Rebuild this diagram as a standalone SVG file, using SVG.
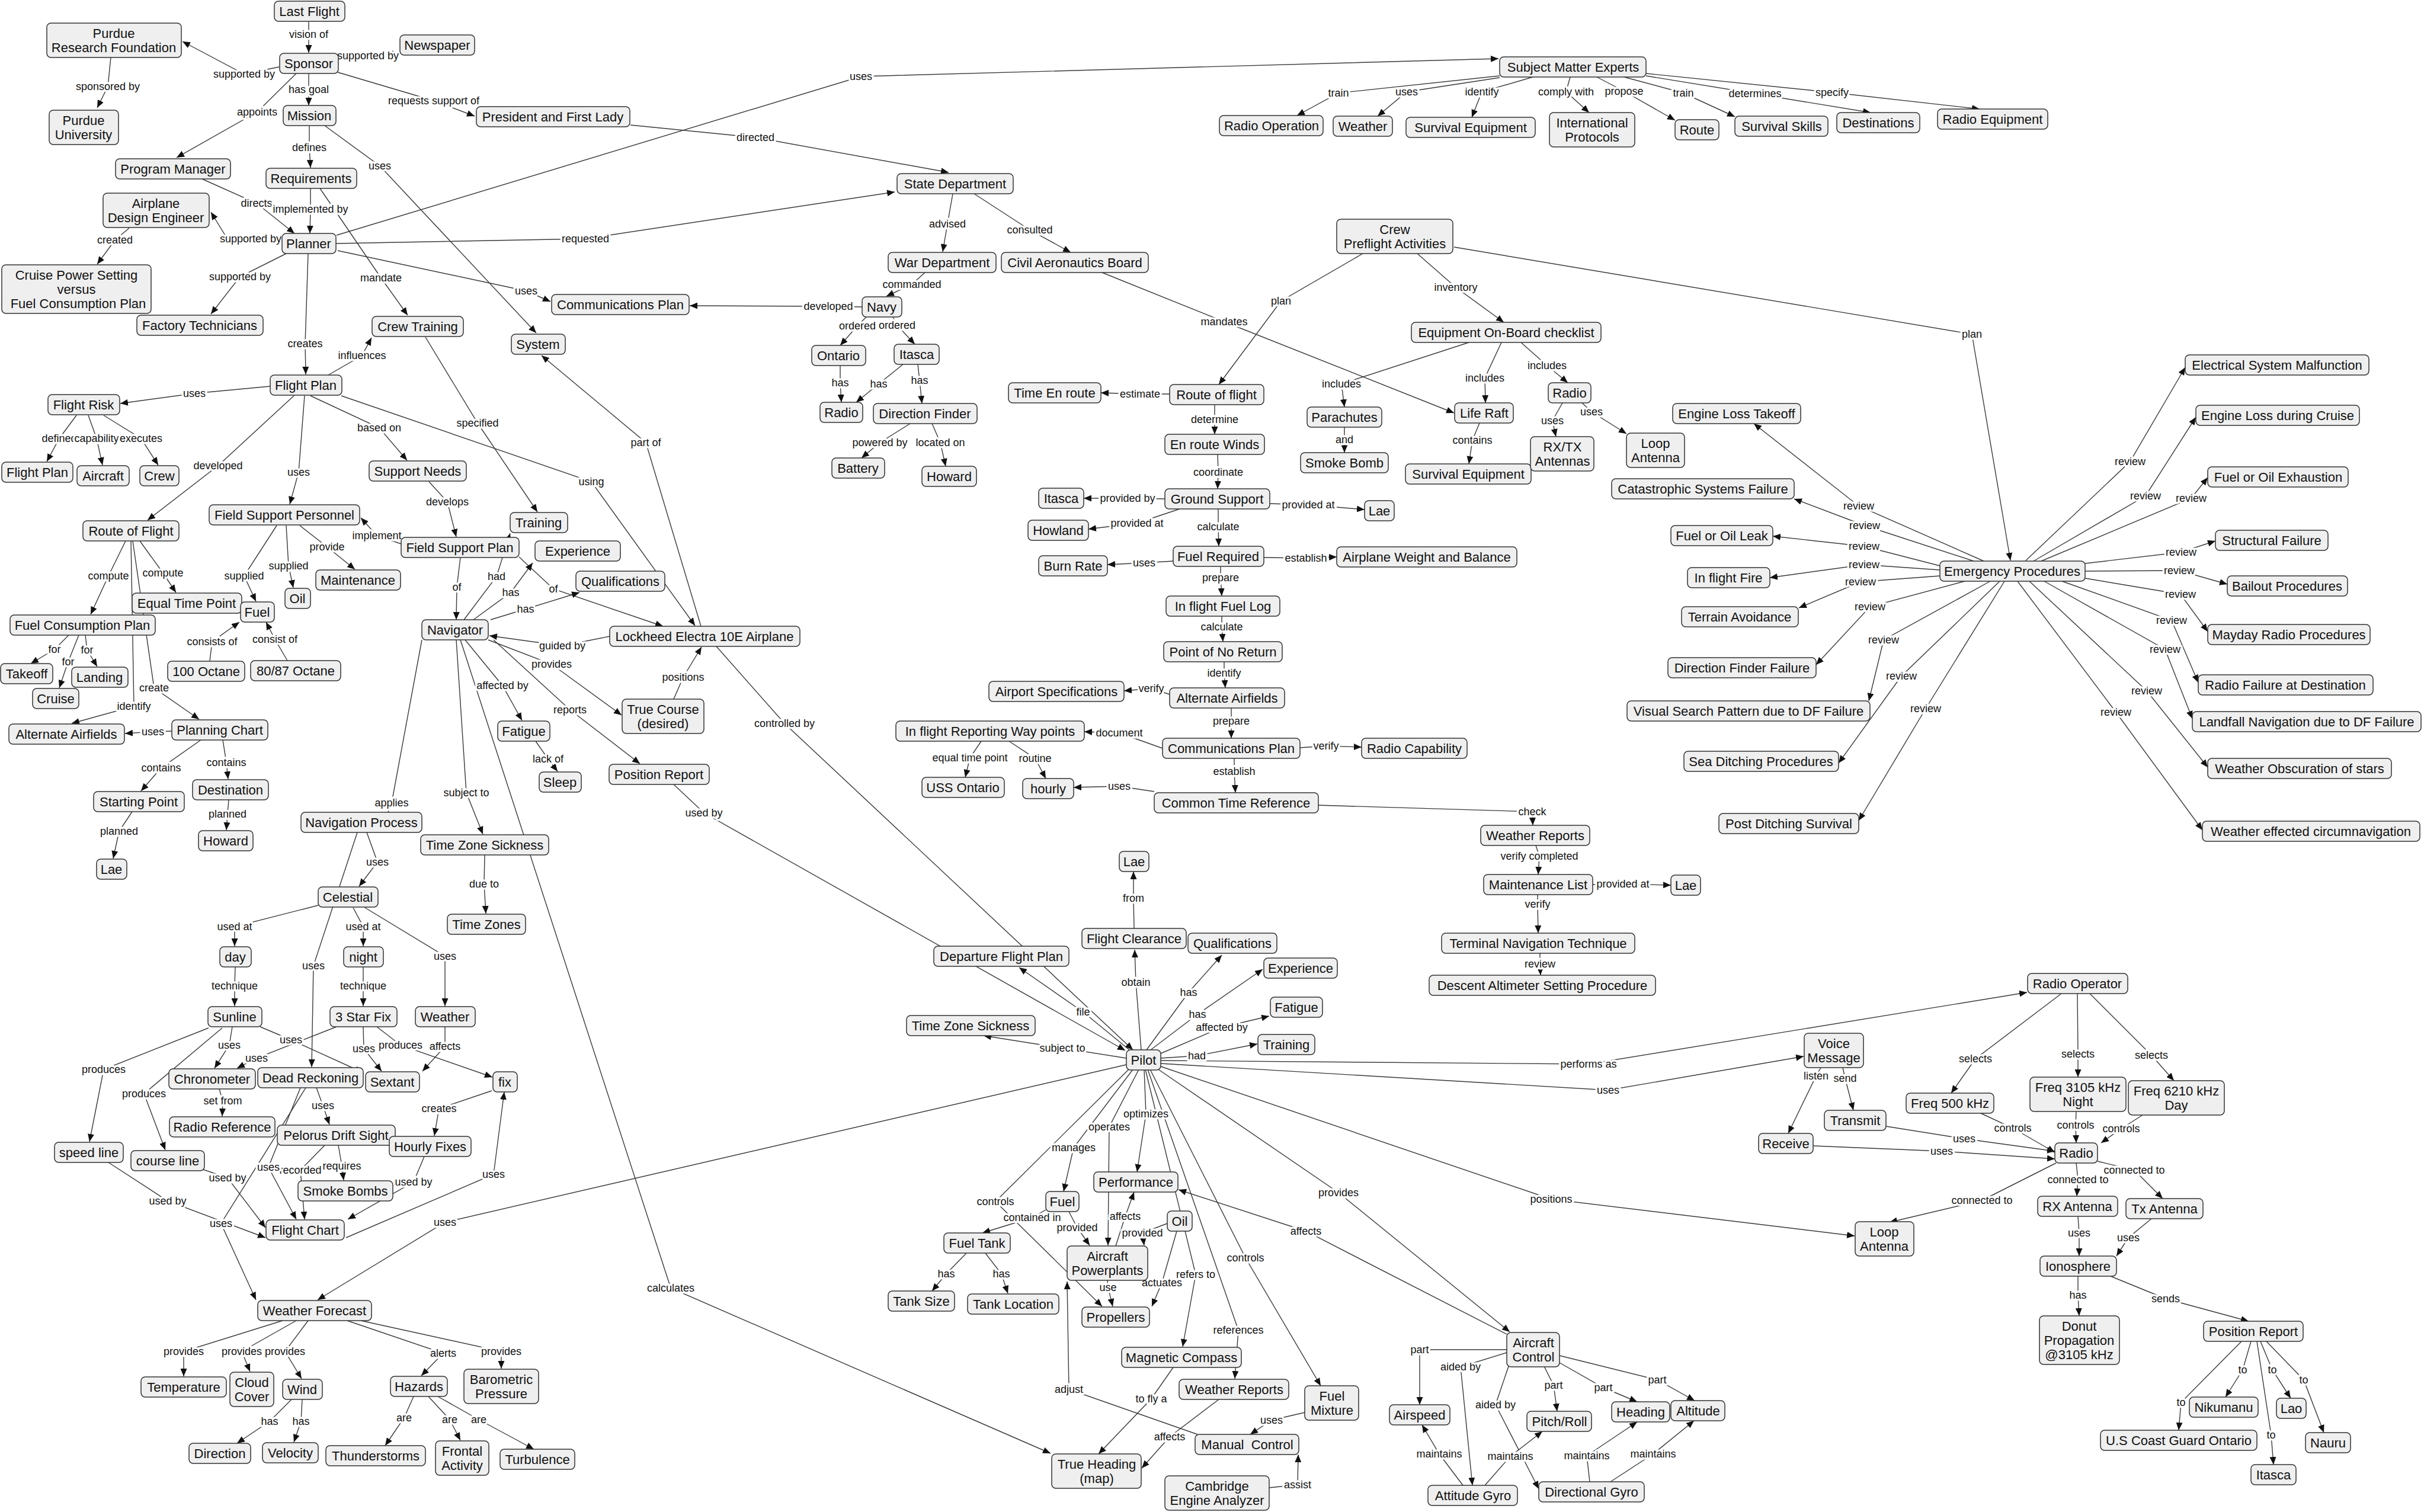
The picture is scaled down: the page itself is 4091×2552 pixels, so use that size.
<svg xmlns="http://www.w3.org/2000/svg" width="4091" height="2552" viewBox="0 0 4091 2552">
<defs>
<marker id="ah" viewBox="0 0 13 11" refX="13" refY="5.5" markerWidth="13" markerHeight="11" markerUnits="userSpaceOnUse" orient="auto"><path d="M0,0L13,5.5L0,11z" fill="#111"/></marker>
<style>
.n rect{fill:#efefef;stroke:#333;stroke-width:1.5}
.n text{font-family:"Liberation Sans",Arial,sans-serif;font-size:22px;fill:#111;text-anchor:middle}
#links path{fill:none;stroke:#3a3a3a;stroke-width:1.4;marker-end:url(#ah)}
#links path.nm{marker-end:none}
#labels text{font-family:"Liberation Sans",Arial,sans-serif;font-size:18px;fill:#111;text-anchor:middle;paint-order:stroke;stroke:#fff;stroke-width:7px;stroke-linejoin:round}
</style>
</defs>
<rect width="4091" height="2552" fill="#fff"/>
<g id="connectors">
<g id="links">
<path d="M521 37L521 58L521 89"/>
<path d="M471 113L412 125L308 70"/>
<path d="M570 100L621 94L675 90"/>
<path d="M187 97L182 146L164 182"/>
<path d="M521 124L521 151L521 178"/>
<path d="M500 124L434 189L298 266"/>
<path d="M570 122L732 170L801 196"/>
<path d="M522 212L522 249L524 283"/>
<path d="M548 212L641 280L905 562"/>
<path d="M1064 211L1275 232L1601 291"/>
<path d="M341 302L433 343L497 394"/>
<path d="M524 318L524 353L523 394"/>
<path d="M540 318L643 469L688 532"/>
<path d="M476 404L380 397L356 358"/>
<path d="M218 385L194 405L164 446"/>
<path d="M566 411L988 403L1510 324"/>
<path d="M568 397L1453 129L2529 99"/>
<path d="M570 423L888 491L929 509"/>
<path d="M483 428L405 467L356 530"/>
<path d="M520 428L515 580L516 632"/>
<path d="M554 633L611 600L627 570"/>
<path d="M718 569L806 714L907 864"/>
<path d="M1183 1057L1090 747L914 600"/>
<path d="M456 652L328 664L203 681"/>
<path d="M129 701L100 740L79 779"/>
<path d="M149 701L163 740L173 785"/>
<path d="M175 701L238 740L267 785"/>
<path d="M524 668L640 722L687 777"/>
<path d="M724 813L755 847L770 906"/>
<path d="M496 668L368 786L249 878"/>
<path d="M514 668L504 797L489 851"/>
<path d="M576 668L998 813L1173 1056"/>
<path d="M677 918L636 904L609 874"/>
<path d="M467 887L412 972L432 1015"/>
<path d="M483 887L487 955L495 992"/>
<path d="M506 887L552 923L599 961"/>
<path d="M212 913L183 972L153 1037"/>
<path d="M236 913L275 967L297 1000"/>
<path d="M221 913L226 1192L121 1221"/>
<path d="M224 913L260 1161L336 1214"/>
<path d="M116 1072L92 1096L52 1120"/>
<path d="M133 1072L115 1117L100 1161"/>
<path d="M144 1072L147 1097L164 1125"/>
<path d="M354 1116L358 1083L404 1050"/>
<path d="M485 1115L464 1079L449 1050"/>
<path d="M290 1234L258 1235L211 1238"/>
<path d="M339 1249L272 1296L238 1335"/>
<path d="M376 1249L382 1287L385 1315"/>
<path d="M223 1370L201 1403L191 1449"/>
<path d="M386 1350L384 1374L382 1401"/>
<path d="M1029 1074L949 1090L826 1073"/>
<path d="M824 1080L931 1121L1049 1207"/>
<path d="M833 1080L962 1198L1080 1289"/>
<path d="M785 1080L848 1157L881 1216"/>
<path d="M904 1251L925 1281L941 1302"/>
<path d="M770 1080L787 1338L815 1408"/>
<path d="M818 1443L817 1492L820 1542"/>
<path class="nm" d="M712 1080L661 1355L655 1371"/>
<path d="M619 1405L637 1455L606 1496"/>
<path d="M777 1080L1132 2174L1773 2453"/>
<path d="M603 1405L529 1630L526 1801"/>
<path d="M537 1528L396 1564L396 1597"/>
<path d="M596 1532L613 1564L613 1597"/>
<path d="M616 1532L751 1614L751 1698"/>
<path d="M397 1632L396 1664L396 1698"/>
<path d="M613 1632L613 1664L613 1698"/>
<path d="M392 1733L387 1764L362 1803"/>
<path d="M568 1733L433 1786L400 1803"/>
<path d="M439 1733L491 1755L612 1810"/>
<path d="M613 1733L614 1770L644 1808"/>
<path d="M636 1733L676 1764L831 1818"/>
<path d="M751 1733L751 1766L713 1808"/>
<path d="M352 1735L175 1805L151 1927"/>
<path d="M375 1735L243 1846L279 1941"/>
<path d="M370 1838L376 1858L375 1884"/>
<path d="M534 1836L545 1866L556 1898"/>
<path d="M830 1841L741 1871L733 1917"/>
<path d="M571 1933L577 1968L580 1992"/>
<path d="M548 1933L507 1975L514 2058"/>
<path d="M507 1836L453 1970L500 2058"/>
<path d="M516 1836L373 2065L432 2194"/>
<path d="M716 1952L698 1995L587 2058"/>
<path d="M343 1974L384 1988L448 2072"/>
<path d="M183 1962L283 2027L448 2089"/>
<path d="M584 2089L833 1982L851 1843"/>
<path d="M1901 1797L751 2063L536 2194"/>
<path d="M477 2229L310 2281L310 2323"/>
<path d="M500 2229L408 2281L422 2315"/>
<path d="M520 2229L481 2281L509 2327"/>
<path d="M586 2229L748 2284L711 2322"/>
<path d="M609 2229L846 2281L846 2310"/>
<path d="M492 2362L455 2399L400 2436"/>
<path d="M510 2362L508 2399L496 2434"/>
<path d="M698 2357L682 2393L650 2440"/>
<path d="M723 2357L759 2396L777 2431"/>
<path d="M739 2357L808 2396L901 2446"/>
<path d="M1608 327L1599 378L1591 425"/>
<path d="M1644 327L1738 388L1807 426"/>
<path d="M1561 460L1539 480L1496 500"/>
<path d="M1455 518L1398 517L1164 516"/>
<path d="M1462 535L1447 550L1418 583"/>
<path d="M1507 535L1514 549L1544 581"/>
<path d="M1418 617L1418 646L1420 679"/>
<path d="M1524 615L1483 648L1445 679"/>
<path d="M1549 615L1552 642L1556 681"/>
<path d="M1536 715L1485 747L1454 773"/>
<path d="M1573 715L1587 747L1596 787"/>
<path d="M1860 460L2066 543L2454 697"/>
<path d="M1974 665L1924 665L1858 663"/>
<path d="M2300 428L2162 508L2057 649"/>
<path d="M2392 428L2457 485L2538 544"/>
<path d="M2454 417L3328 564L3393 946"/>
<path d="M2050 683L2050 708L2050 733"/>
<path d="M2055 767L2056 797L2055 825"/>
<path d="M2143 850L2208 852L2303 860"/>
<path d="M1966 842L1903 841L1829 841"/>
<path d="M1991 859L1919 883L1837 893"/>
<path d="M2056 859L2056 889L2057 922"/>
<path d="M1980 947L1931 950L1869 953"/>
<path d="M2133 941L2204 942L2256 940"/>
<path d="M2060 956L2060 975L2062 1006"/>
<path d="M2062 1040L2062 1058L2064 1083"/>
<path d="M2066 1117L2066 1136L2068 1161"/>
<path d="M1974 1172L1943 1162L1897 1166"/>
<path d="M2078 1195L2078 1217L2078 1246"/>
<path d="M2194 1262L2238 1259L2298 1261"/>
<path d="M1962 1263L1889 1237L1830 1235"/>
<path d="M1656 1251L1637 1279L1629 1312"/>
<path d="M1703 1251L1747 1280L1765 1314"/>
<path d="M2083 1280L2083 1302L2085 1338"/>
<path d="M1948 1336L1889 1327L1812 1329"/>
<path d="M2224 1359L2586 1370L2587 1393"/>
<path d="M2592 1427L2598 1445L2596 1476"/>
<path d="M2688 1493L2739 1492L2820 1494"/>
<path d="M2595 1510L2595 1526L2596 1575"/>
<path d="M2599 1609L2599 1627L2600 1646"/>
<path d="M2479 578L2264 648L2269 687"/>
<path d="M2534 578L2506 638L2507 680"/>
<path d="M2567 578L2611 617L2646 646"/>
<path d="M2269 721L2269 742L2269 764"/>
<path d="M2497 714L2485 743L2479 783"/>
<path d="M2637 680L2620 710L2626 737"/>
<path d="M2670 680L2686 695L2745 732"/>
<path d="M2531 128L2259 157L2189 195"/>
<path d="M2531 131L2374 155L2325 196"/>
<path d="M2587 130L2501 155L2484 198"/>
<path d="M2650 130L2643 155L2682 190"/>
<path d="M2695 130L2741 154L2827 203"/>
<path d="M2741 130L2841 157L2928 197"/>
<path d="M2778 128L2962 158L3157 190"/>
<path d="M2778 124L3092 156L3341 184"/>
<path d="M3418 947L3595 779L3688 620"/>
<path d="M3432 947L3621 837L3706 704"/>
<path d="M3445 947L3698 841L3726 806"/>
<path d="M3348 947L3137 854L2960 715"/>
<path d="M3331 947L3147 887L3028 842"/>
<path d="M3274 955L3146 922L2992 905"/>
<path d="M3274 962L3146 953L2987 975"/>
<path d="M3274 972L3140 982L3036 1026"/>
<path d="M3316 981L3156 1024L3065 1122"/>
<path d="M3359 981L3179 1080L3154 1183"/>
<path d="M3375 981L3209 1141L3103 1288"/>
<path d="M3383 981L3250 1196L3137 1385"/>
<path d="M3405 981L3571 1202L3717 1401"/>
<path d="M3425 981L3623 1166L3726 1295"/>
<path d="M3450 981L3654 1096L3700 1213"/>
<path d="M3480 981L3665 1047L3710 1152"/>
<path d="M3519 951L3681 932L3739 913"/>
<path d="M3519 964L3678 963L3759 986"/>
<path d="M3519 976L3680 1003L3726 1066"/>
<path d="M1137 1324L1188 1372L1899 1773"/>
<path d="M1209 1091L1324 1221L1912 1772"/>
<path d="M1906 1772L1828 1708L1720 1633"/>
<path d="M1926 1772L1917 1658L1915 1603"/>
<path d="M1935 1772L2006 1675L2062 1612"/>
<path d="M1942 1772L2021 1712L2131 1636"/>
<path d="M1959 1778L2062 1734L2142 1715"/>
<path d="M1959 1786L2020 1782L2122 1762"/>
<path d="M1901 1786L1793 1769L1660 1748"/>
<path d="M1959 1790L2681 1796L3421 1675"/>
<path d="M1959 1795L2714 1840L3044 1783"/>
<path d="M1959 1800L2618 2024L3130 2086"/>
<path d="M1955 1805L2259 2013L2548 2248"/>
<path d="M2543 2252L2204 2078L1989 2008"/>
<path d="M1941 1805L2102 2123L2229 2339"/>
<path d="M1937 1805L2090 2245L2084 2327"/>
<path d="M1933 1805L2018 2151L1996 2273"/>
<path d="M1931 1805L1934 1880L1919 1978"/>
<path d="M1922 1805L1872 1902L1870 2102"/>
<path d="M1912 1805L1812 1937L1795 2011"/>
<path d="M1905 1805L1680 2028L1860 2205"/>
<path d="M1765 2042L1742 2055L1658 2081"/>
<path d="M1804 2045L1818 2072L1839 2102"/>
<path d="M1883 2103L1899 2053L1914 2012"/>
<path d="M1970 2065L1928 2081L1931 2102"/>
<path d="M1986 2078L1961 2165L1944 2205"/>
<path d="M1869 2161L1870 2173L1878 2205"/>
<path d="M1631 2115L1597 2150L1573 2179"/>
<path d="M1663 2115L1690 2150L1701 2183"/>
<path d="M1980 2308L1943 2361L1854 2454"/>
<path d="M2057 2362L1974 2425L1927 2478"/>
<path d="M2021 2421L1804 2345L1801 2163"/>
<path d="M2202 2384L2146 2397L2110 2421"/>
<path d="M2142 2511L2190 2506L2191 2455"/>
<path d="M1914 1567L1913 1516L1913 1471"/>
<path d="M2543 2278L2396 2278L2396 2371"/>
<path d="M2543 2283L2465 2307L2485 2507"/>
<path d="M2546 2306L2524 2371L2597 2513"/>
<path d="M2606 2306L2622 2338L2628 2382"/>
<path d="M2632 2300L2706 2342L2763 2366"/>
<path d="M2632 2288L2797 2329L2860 2364"/>
<path d="M2469 2507L2429 2454L2400 2405"/>
<path d="M2506 2507L2549 2458L2603 2416"/>
<path d="M2683 2501L2678 2457L2763 2400"/>
<path d="M2718 2501L2790 2454L2859 2398"/>
<path d="M3479 1677L3334 1787L3293 1845"/>
<path d="M3506 1677L3507 1779L3507 1818"/>
<path d="M3527 1677L3631 1781L3669 1824"/>
<path d="M3073 1802L3065 1816L3018 1913"/>
<path d="M3110 1802L3114 1820L3128 1874"/>
<path d="M3343 1879L3397 1904L3468 1945"/>
<path d="M3504 1876L3503 1899L3504 1929"/>
<path d="M3616 1882L3580 1905L3546 1929"/>
<path d="M3183 1901L3315 1922L3468 1943"/>
<path d="M3060 1934L3277 1943L3468 1956"/>
<path d="M3470 1963L3345 2026L3189 2063"/>
<path d="M3504 1963L3507 1991L3505 2019"/>
<path d="M3540 1960L3602 1975L3650 2023"/>
<path d="M3507 2053L3509 2081L3509 2120"/>
<path d="M3631 2057L3592 2089L3572 2120"/>
<path d="M3507 2154L3507 2186L3509 2221"/>
<path d="M3562 2154L3655 2192L3795 2230"/>
<path d="M3783 2264L3681 2367L3677 2414"/>
<path d="M3799 2264L3785 2312L3756 2358"/>
<path d="M3815 2264L3835 2312L3866 2360"/>
<path d="M3809 2264L3833 2422L3837 2472"/>
<path d="M3825 2264L3888 2329L3922 2418"/>
<path d="M777 941L771 991L770 1046"/>
<path d="M876 940L934 994L1119 1057"/>
<path d="M828 1046L887 1028L978 1000"/>
<path d="M799 1046L862 1000L899 950"/>
<path d="M783 1046L838 973L861 900"/>
<path d="M1137 1180L1153 1143L1184 1092"/>
</g>
<g id="labels">
<text x="521" y="64">vision of</text>
<text x="412" y="131">supported by</text>
<text x="621" y="100">supported by</text>
<text x="182" y="152">sponsored by</text>
<text x="521" y="157">has goal</text>
<text x="434" y="195">appoints</text>
<text x="732" y="176">requests support of</text>
<text x="522" y="255">defines</text>
<text x="641" y="286">uses</text>
<text x="1275" y="238">directed</text>
<text x="433" y="349">directs</text>
<text x="524" y="359">implemented by</text>
<text x="643" y="475">mandate</text>
<text x="423" y="409">supported by</text>
<text x="194" y="411">created</text>
<text x="988" y="409">requested</text>
<text x="1453" y="135">uses</text>
<text x="888" y="497">uses</text>
<text x="405" y="473">supported by</text>
<text x="515" y="586">creates</text>
<text x="611" y="606">influences</text>
<text x="806" y="720">specified</text>
<text x="1090" y="753">part of</text>
<text x="328" y="670">uses</text>
<text x="100" y="746">defined</text>
<text x="163" y="746">capability</text>
<text x="238" y="746">executes</text>
<text x="640" y="728">based on</text>
<text x="755" y="853">develops</text>
<text x="368" y="792">developed</text>
<text x="504" y="803">uses</text>
<text x="998" y="819">using</text>
<text x="636" y="910">implement</text>
<text x="412" y="978">supplied</text>
<text x="487" y="961">supplied</text>
<text x="552" y="929">provide</text>
<text x="183" y="978">compute</text>
<text x="275" y="973">compute</text>
<text x="226" y="1198">identify</text>
<text x="260" y="1167">create</text>
<text x="92" y="1102">for</text>
<text x="115" y="1123">for</text>
<text x="147" y="1103">for</text>
<text x="358" y="1089">consists of</text>
<text x="464" y="1085">consist of</text>
<text x="258" y="1241">uses</text>
<text x="272" y="1302">contains</text>
<text x="382" y="1293">contains</text>
<text x="201" y="1409">planned</text>
<text x="384" y="1380">planned</text>
<text x="949" y="1096">guided by</text>
<text x="931" y="1127">provides</text>
<text x="962" y="1204">reports</text>
<text x="848" y="1163">affected  by</text>
<text x="925" y="1287">lack of</text>
<text x="787" y="1344">subject to</text>
<text x="817" y="1498">due to</text>
<text x="661" y="1361">applies</text>
<text x="637" y="1461">uses</text>
<text x="1132" y="2180">calculates</text>
<text x="529" y="1636">uses</text>
<text x="396" y="1570">used at</text>
<text x="613" y="1570">used at</text>
<text x="751" y="1620">uses</text>
<text x="396" y="1670">technique</text>
<text x="613" y="1670">technique</text>
<text x="387" y="1770">uses</text>
<text x="433" y="1792">uses</text>
<text x="491" y="1761">uses</text>
<text x="614" y="1776">uses</text>
<text x="676" y="1770">produces</text>
<text x="751" y="1772">affects</text>
<text x="175" y="1811">produces</text>
<text x="243" y="1852">produces</text>
<text x="376" y="1864">set from</text>
<text x="545" y="1872">uses</text>
<text x="741" y="1877">creates</text>
<text x="577" y="1974">requires</text>
<text x="507" y="1981">recorded</text>
<text x="453" y="1976">uses</text>
<text x="373" y="2071">uses</text>
<text x="698" y="2001">used by</text>
<text x="384" y="1994">used by</text>
<text x="283" y="2033">used by</text>
<text x="833" y="1988">uses</text>
<text x="751" y="2069">uses</text>
<text x="310" y="2287">provides</text>
<text x="408" y="2287">provides</text>
<text x="481" y="2287">provides</text>
<text x="748" y="2290">alerts</text>
<text x="846" y="2287">provides</text>
<text x="455" y="2405">has</text>
<text x="508" y="2405">has</text>
<text x="682" y="2399">are</text>
<text x="759" y="2402">are</text>
<text x="808" y="2402">are</text>
<text x="1599" y="384">advised</text>
<text x="1738" y="394">consulted</text>
<text x="1539" y="486">commanded</text>
<text x="1398" y="523">developed</text>
<text x="1447" y="556">ordered</text>
<text x="1514" y="555">ordered</text>
<text x="1418" y="652">has</text>
<text x="1483" y="654">has</text>
<text x="1552" y="648">has</text>
<text x="1485" y="753">powered by</text>
<text x="1587" y="753">located on</text>
<text x="2066" y="549">mandates</text>
<text x="1924" y="671">estimate</text>
<text x="2162" y="514">plan</text>
<text x="2457" y="491">inventory</text>
<text x="3328" y="570">plan</text>
<text x="2050" y="714">determine</text>
<text x="2056" y="803">coordinate</text>
<text x="2208" y="858">provided at</text>
<text x="1903" y="847">provided by</text>
<text x="1919" y="889">provided at</text>
<text x="2056" y="895">calculate</text>
<text x="1931" y="956">uses</text>
<text x="2204" y="948">establish</text>
<text x="2060" y="981">prepare</text>
<text x="2062" y="1064">calculate</text>
<text x="2066" y="1142">identify</text>
<text x="1943" y="1168">verify</text>
<text x="2078" y="1223">prepare</text>
<text x="2238" y="1265">verify</text>
<text x="1889" y="1243">document</text>
<text x="1637" y="1285">equal time point</text>
<text x="1747" y="1286">routine</text>
<text x="2083" y="1308">establish</text>
<text x="1889" y="1333">uses</text>
<text x="2586" y="1376">check</text>
<text x="2598" y="1451">verify completed</text>
<text x="2739" y="1498">provided at</text>
<text x="2595" y="1532">verify</text>
<text x="2599" y="1633">review</text>
<text x="2264" y="654">includes</text>
<text x="2506" y="644">includes</text>
<text x="2611" y="623">includes</text>
<text x="2269" y="748">and</text>
<text x="2485" y="749">contains</text>
<text x="2620" y="716">uses</text>
<text x="2686" y="701">uses</text>
<text x="2259" y="163">train</text>
<text x="2374" y="161">uses</text>
<text x="2501" y="161">identify</text>
<text x="2643" y="161">comply with</text>
<text x="2741" y="160">propose</text>
<text x="2841" y="163">train</text>
<text x="2962" y="164">determines</text>
<text x="3092" y="162">specify</text>
<text x="3595" y="785">review</text>
<text x="3621" y="843">review</text>
<text x="3698" y="847">review</text>
<text x="3137" y="860">review</text>
<text x="3147" y="893">review</text>
<text x="3146" y="928">review</text>
<text x="3146" y="959">review</text>
<text x="3140" y="988">review</text>
<text x="3156" y="1030">review</text>
<text x="3179" y="1086">review</text>
<text x="3209" y="1147">review</text>
<text x="3250" y="1202">review</text>
<text x="3571" y="1208">review</text>
<text x="3623" y="1172">review</text>
<text x="3654" y="1102">review</text>
<text x="3665" y="1053">review</text>
<text x="3681" y="938">review</text>
<text x="3678" y="969">review</text>
<text x="3680" y="1009">review</text>
<text x="1188" y="1378">used by</text>
<text x="1324" y="1227">controlled by</text>
<text x="1828" y="1714">file</text>
<text x="1917" y="1664">obtain</text>
<text x="2006" y="1681">has</text>
<text x="2021" y="1718">has</text>
<text x="2062" y="1740">affected by</text>
<text x="2020" y="1788">had</text>
<text x="1793" y="1775">subject to</text>
<text x="2681" y="1802">performs as</text>
<text x="2714" y="1846">uses</text>
<text x="2618" y="2030">positions</text>
<text x="2259" y="2019">provides</text>
<text x="2204" y="2084">affects</text>
<text x="2102" y="2129">controls</text>
<text x="2090" y="2251">references</text>
<text x="2018" y="2157">refers to</text>
<text x="1934" y="1886">optimizes</text>
<text x="1872" y="1908">operates</text>
<text x="1812" y="1943">manages</text>
<text x="1680" y="2034">controls</text>
<text x="1742" y="2061">contained in</text>
<text x="1818" y="2078">provided</text>
<text x="1899" y="2059">affects</text>
<text x="1928" y="2087">provided</text>
<text x="1961" y="2171">actuates</text>
<text x="1870" y="2179">use</text>
<text x="1597" y="2156">has</text>
<text x="1690" y="2156">has</text>
<text x="1943" y="2367">to fly a</text>
<text x="1974" y="2431">affects</text>
<text x="1804" y="2351">adjust</text>
<text x="2146" y="2403">uses</text>
<text x="2190" y="2512">assist</text>
<text x="1913" y="1522">from</text>
<text x="2396" y="2284">part</text>
<text x="2465" y="2313">aided by</text>
<text x="2524" y="2377">aided by</text>
<text x="2622" y="2344">part</text>
<text x="2706" y="2348">part</text>
<text x="2797" y="2335">part</text>
<text x="2429" y="2460">maintains</text>
<text x="2549" y="2464">maintains</text>
<text x="2678" y="2463">maintains</text>
<text x="2790" y="2460">maintains</text>
<text x="3334" y="1793">selects</text>
<text x="3507" y="1785">selects</text>
<text x="3631" y="1787">selects</text>
<text x="3065" y="1822">listen</text>
<text x="3114" y="1826">send</text>
<text x="3397" y="1910">controls</text>
<text x="3503" y="1905">controls</text>
<text x="3580" y="1911">controls</text>
<text x="3315" y="1928">uses</text>
<text x="3277" y="1949">uses</text>
<text x="3345" y="2032">connected to</text>
<text x="3507" y="1997">connected to</text>
<text x="3602" y="1981">connected to</text>
<text x="3509" y="2087">uses</text>
<text x="3592" y="2095">uses</text>
<text x="3507" y="2192">has</text>
<text x="3655" y="2198">sends</text>
<text x="3681" y="2373">to</text>
<text x="3785" y="2318">to</text>
<text x="3835" y="2318">to</text>
<text x="3833" y="2428">to</text>
<text x="3888" y="2335">to</text>
<text x="771" y="997">of</text>
<text x="934" y="1000">of</text>
<text x="887" y="1034">has</text>
<text x="862" y="1006">has</text>
<text x="838" y="979">had</text>
<text x="1153" y="1149">positions</text>
</g>
</g>
<g id="nodes">
<g id="n-last-flight" class="n"><rect x="463" y="2" width="119" height="34" rx="7"/><text x="522" y="27">Last Flight</text></g>
<g id="n-purdue-research" class="n"><rect x="79" y="39" width="227" height="58" rx="7"/><text x="192" y="64">Purdue</text><text x="192" y="88">Research Foundation</text></g>
<g id="n-sponsor" class="n"><rect x="472" y="90" width="99" height="34" rx="7"/><text x="521" y="115">Sponsor</text></g>
<g id="n-newspaper" class="n"><rect x="675" y="59" width="126" height="34" rx="7"/><text x="738" y="84">Newspaper</text></g>
<g id="n-purdue-university" class="n"><rect x="83" y="186" width="117" height="58" rx="7"/><text x="141" y="211">Purdue</text><text x="141" y="235">University</text></g>
<g id="n-mission" class="n"><rect x="478" y="178" width="89" height="34" rx="7"/><text x="522" y="203">Mission</text></g>
<g id="n-president" class="n"><rect x="804" y="180" width="259" height="34" rx="7"/><text x="933" y="205">President and First Lady</text></g>
<g id="n-program-manager" class="n"><rect x="195" y="268" width="194" height="34" rx="7"/><text x="292" y="293">Program Manager</text></g>
<g id="n-requirements" class="n"><rect x="449" y="284" width="153" height="34" rx="7"/><text x="525" y="309">Requirements</text></g>
<g id="n-airplane-design-engineer" class="n"><rect x="174" y="326" width="179" height="58" rx="7"/><text x="263" y="351">Airplane</text><text x="263" y="375">Design Engineer</text></g>
<g id="n-planner" class="n"><rect x="476" y="394" width="91" height="34" rx="7"/><text x="521" y="419">Planner</text></g>
<g id="n-cruise-power" class="n"><rect x="3" y="447" width="252" height="82" rx="7"/><text x="129" y="472">Cruise Power Setting</text><text x="129" y="496">versus</text><text x="132" y="520">Fuel Consumption Plan</text></g>
<g id="n-factory-technicians" class="n"><rect x="231" y="532" width="213" height="34" rx="7"/><text x="337" y="557">Factory Technicians</text></g>
<g id="n-crew-training" class="n"><rect x="628" y="534" width="154" height="34" rx="7"/><text x="705" y="559">Crew Training</text></g>
<g id="n-system" class="n"><rect x="863" y="564" width="91" height="34" rx="7"/><text x="908" y="589">System</text></g>
<g id="n-comm-plan-1" class="n"><rect x="931" y="497" width="232" height="34" rx="7"/><text x="1047" y="522">Communications Plan</text></g>
<g id="n-flight-plan" class="n"><rect x="456" y="633" width="121" height="34" rx="7"/><text x="516" y="658">Flight Plan</text></g>
<g id="n-flight-risk" class="n"><rect x="81" y="666" width="121" height="34" rx="7"/><text x="141" y="691">Flight Risk</text></g>
<g id="n-flight-plan-2" class="n"><rect x="3" y="780" width="120" height="34" rx="7"/><text x="63" y="805">Flight Plan</text></g>
<g id="n-aircraft" class="n"><rect x="130" y="786" width="88" height="34" rx="7"/><text x="174" y="811">Aircraft</text></g>
<g id="n-crew" class="n"><rect x="236" y="786" width="66" height="34" rx="7"/><text x="269" y="811">Crew</text></g>
<g id="n-support-needs" class="n"><rect x="623" y="778" width="164" height="34" rx="7"/><text x="705" y="803">Support Needs</text></g>
<g id="n-field-support-personnel" class="n"><rect x="353" y="852" width="254" height="34" rx="7"/><text x="480" y="877">Field Support Personnel</text></g>
<g id="n-route-of-flight-1" class="n"><rect x="140" y="879" width="162" height="34" rx="7"/><text x="221" y="904">Route of Flight</text></g>
<g id="n-training-1" class="n"><rect x="861" y="865" width="97" height="34" rx="7"/><text x="909" y="890">Training</text></g>
<g id="n-field-support-plan" class="n"><rect x="677" y="907" width="199" height="34" rx="7"/><text x="776" y="932">Field Support Plan</text></g>
<g id="n-experience-1" class="n"><rect x="903" y="913" width="144" height="34" rx="7"/><text x="975" y="938">Experience</text></g>
<g id="n-qualifications-1" class="n"><rect x="972" y="964" width="150" height="34" rx="7"/><text x="1047" y="989">Qualifications</text></g>
<g id="n-maintenance" class="n"><rect x="533" y="962" width="143" height="34" rx="7"/><text x="604" y="987">Maintenance</text></g>
<g id="n-equal-time-point" class="n"><rect x="223" y="1001" width="185" height="34" rx="7"/><text x="315" y="1026">Equal Time Point</text></g>
<g id="n-fuel-1" class="n"><rect x="406" y="1016" width="57" height="34" rx="7"/><text x="434" y="1041">Fuel</text></g>
<g id="n-oil-1" class="n"><rect x="481" y="993" width="43" height="34" rx="7"/><text x="502" y="1018">Oil</text></g>
<g id="n-fuel-consumption-plan" class="n"><rect x="17" y="1038" width="245" height="34" rx="7"/><text x="139" y="1063">Fuel Consumption Plan</text></g>
<g id="n-navigator" class="n"><rect x="712" y="1046" width="112" height="34" rx="7"/><text x="768" y="1071">Navigator</text></g>
<g id="n-lockheed" class="n"><rect x="1029" y="1057" width="321" height="34" rx="7"/><text x="1189" y="1082">Lockheed Electra 10E Airplane</text></g>
<g id="n-takeoff" class="n"><rect x="1" y="1120" width="88" height="34" rx="7"/><text x="45" y="1145">Takeoff</text></g>
<g id="n-landing" class="n"><rect x="121" y="1126" width="95" height="34" rx="7"/><text x="168" y="1151">Landing</text></g>
<g id="n-cruise" class="n"><rect x="55" y="1162" width="78" height="34" rx="7"/><text x="94" y="1187">Cruise</text></g>
<g id="n-100-octane" class="n"><rect x="283" y="1116" width="130" height="34" rx="7"/><text x="348" y="1141">100 Octane</text></g>
<g id="n-8087-octane" class="n"><rect x="423" y="1115" width="152" height="34" rx="7"/><text x="499" y="1140">80/87 Octane</text></g>
<g id="n-alternate-airfields-1" class="n"><rect x="15" y="1222" width="195" height="34" rx="7"/><text x="112" y="1247">Alternate Airfields</text></g>
<g id="n-planning-chart" class="n"><rect x="290" y="1215" width="162" height="34" rx="7"/><text x="371" y="1240">Planning Chart</text></g>
<g id="n-fatigue-1" class="n"><rect x="840" y="1217" width="88" height="34" rx="7"/><text x="884" y="1242">Fatigue</text></g>
<g id="n-true-course" class="n"><rect x="1050" y="1180" width="138" height="58" rx="7"/><text x="1119" y="1205">True Course</text><text x="1119" y="1229">(desired)</text></g>
<g id="n-position-report-1" class="n"><rect x="1028" y="1290" width="169" height="34" rx="7"/><text x="1112" y="1315">Position Report</text></g>
<g id="n-sleep" class="n"><rect x="910" y="1303" width="71" height="34" rx="7"/><text x="945" y="1328">Sleep</text></g>
<g id="n-starting-point" class="n"><rect x="158" y="1336" width="153" height="34" rx="7"/><text x="234" y="1361">Starting Point</text></g>
<g id="n-destination" class="n"><rect x="325" y="1316" width="128" height="34" rx="7"/><text x="389" y="1341">Destination</text></g>
<g id="n-navigation-process" class="n"><rect x="508" y="1371" width="204" height="34" rx="7"/><text x="610" y="1396">Navigation Process</text></g>
<g id="n-time-zone-sickness-1" class="n"><rect x="710" y="1409" width="216" height="34" rx="7"/><text x="818" y="1434">Time Zone Sickness</text></g>
<g id="n-howard-1" class="n"><rect x="335" y="1402" width="92" height="34" rx="7"/><text x="381" y="1427">Howard</text></g>
<g id="n-lae-1" class="n"><rect x="163" y="1450" width="51" height="34" rx="7"/><text x="188" y="1475">Lae</text></g>
<g id="n-celestial" class="n"><rect x="537" y="1497" width="101" height="34" rx="7"/><text x="587" y="1522">Celestial</text></g>
<g id="n-time-zones" class="n"><rect x="755" y="1543" width="132" height="34" rx="7"/><text x="821" y="1568">Time Zones</text></g>
<g id="n-day" class="n"><rect x="371" y="1598" width="53" height="34" rx="7"/><text x="397" y="1623">day</text></g>
<g id="n-night" class="n"><rect x="580" y="1598" width="67" height="34" rx="7"/><text x="613" y="1623">night</text></g>
<g id="n-sunline" class="n"><rect x="351" y="1699" width="91" height="34" rx="7"/><text x="396" y="1724">Sunline</text></g>
<g id="n-3-star-fix" class="n"><rect x="557" y="1699" width="113" height="34" rx="7"/><text x="613" y="1724">3 Star Fix</text></g>
<g id="n-weather-1" class="n"><rect x="701" y="1699" width="101" height="34" rx="7"/><text x="751" y="1724">Weather</text></g>
<g id="n-chronometer" class="n"><rect x="285" y="1804" width="146" height="34" rx="7"/><text x="358" y="1829">Chronometer</text></g>
<g id="n-dead-reckoning" class="n"><rect x="435" y="1802" width="178" height="34" rx="7"/><text x="524" y="1827">Dead Reckoning</text></g>
<g id="n-sextant" class="n"><rect x="617" y="1809" width="91" height="34" rx="7"/><text x="662" y="1834">Sextant</text></g>
<g id="n-fix" class="n"><rect x="832" y="1809" width="41" height="34" rx="7"/><text x="852" y="1834">fix</text></g>
<g id="n-radio-reference" class="n"><rect x="286" y="1885" width="178" height="34" rx="7"/><text x="375" y="1910">Radio Reference</text></g>
<g id="n-pelorus" class="n"><rect x="468" y="1899" width="199" height="34" rx="7"/><text x="567" y="1924">Pelorus Drift Sight</text></g>
<g id="n-hourly-fixes" class="n"><rect x="657" y="1918" width="138" height="34" rx="7"/><text x="726" y="1943">Hourly Fixes</text></g>
<g id="n-speed-line" class="n"><rect x="92" y="1928" width="116" height="34" rx="7"/><text x="150" y="1953">speed line</text></g>
<g id="n-course-line" class="n"><rect x="221" y="1942" width="124" height="34" rx="7"/><text x="283" y="1967">course line</text></g>
<g id="n-smoke-bombs" class="n"><rect x="503" y="1993" width="160" height="34" rx="7"/><text x="583" y="2018">Smoke Bombs</text></g>
<g id="n-flight-chart" class="n"><rect x="449" y="2059" width="132" height="34" rx="7"/><text x="515" y="2084">Flight Chart</text></g>
<g id="n-weather-forecast" class="n"><rect x="435" y="2195" width="192" height="34" rx="7"/><text x="531" y="2220">Weather Forecast</text></g>
<g id="n-temperature" class="n"><rect x="238" y="2324" width="144" height="34" rx="7"/><text x="310" y="2349">Temperature</text></g>
<g id="n-cloud-cover" class="n"><rect x="388" y="2316" width="74" height="58" rx="7"/><text x="425" y="2341">Cloud</text><text x="425" y="2365">Cover</text></g>
<g id="n-wind" class="n"><rect x="477" y="2328" width="67" height="34" rx="7"/><text x="510" y="2353">Wind</text></g>
<g id="n-hazards" class="n"><rect x="659" y="2323" width="96" height="34" rx="7"/><text x="707" y="2348">Hazards</text></g>
<g id="n-barometric" class="n"><rect x="783" y="2311" width="126" height="58" rx="7"/><text x="846" y="2336">Barometric</text><text x="846" y="2360">Pressure</text></g>
<g id="n-direction" class="n"><rect x="319" y="2436" width="104" height="34" rx="7"/><text x="371" y="2461">Direction</text></g>
<g id="n-velocity" class="n"><rect x="443" y="2435" width="94" height="34" rx="7"/><text x="490" y="2460">Velocity</text></g>
<g id="n-thunderstorms" class="n"><rect x="550" y="2440" width="168" height="34" rx="7"/><text x="634" y="2465">Thunderstorms</text></g>
<g id="n-frontal" class="n"><rect x="735" y="2432" width="90" height="58" rx="7"/><text x="780" y="2457">Frontal</text><text x="780" y="2481">Activity</text></g>
<g id="n-turbulence" class="n"><rect x="844" y="2446" width="126" height="34" rx="7"/><text x="907" y="2471">Turbulence</text></g>
<g id="n-state-department" class="n"><rect x="1514" y="293" width="196" height="34" rx="7"/><text x="1612" y="318">State Department</text></g>
<g id="n-war-department" class="n"><rect x="1499" y="426" width="182" height="34" rx="7"/><text x="1590" y="451">War Department</text></g>
<g id="n-cab" class="n"><rect x="1690" y="426" width="248" height="34" rx="7"/><text x="1814" y="451">Civil Aeronautics Board</text></g>
<g id="n-navy" class="n"><rect x="1455" y="501" width="67" height="34" rx="7"/><text x="1488" y="526">Navy</text></g>
<g id="n-ontario" class="n"><rect x="1370" y="583" width="91" height="34" rx="7"/><text x="1415" y="608">Ontario</text></g>
<g id="n-itasca-1" class="n"><rect x="1509" y="581" width="76" height="34" rx="7"/><text x="1547" y="606">Itasca</text></g>
<g id="n-radio-1" class="n"><rect x="1384" y="679" width="72" height="34" rx="7"/><text x="1420" y="704">Radio</text></g>
<g id="n-direction-finder" class="n"><rect x="1474" y="681" width="175" height="34" rx="7"/><text x="1561" y="706">Direction Finder</text></g>
<g id="n-battery" class="n"><rect x="1404" y="773" width="89" height="34" rx="7"/><text x="1448" y="798">Battery</text></g>
<g id="n-howard-2" class="n"><rect x="1556" y="787" width="92" height="34" rx="7"/><text x="1602" y="812">Howard</text></g>
<g id="n-time-en-route" class="n"><rect x="1702" y="646" width="156" height="34" rx="7"/><text x="1780" y="671">Time En route</text></g>
<g id="n-route-of-flight-2" class="n"><rect x="1974" y="649" width="159" height="34" rx="7"/><text x="2053" y="674">Route of flight</text></g>
<g id="n-en-route-winds" class="n"><rect x="1966" y="733" width="168" height="34" rx="7"/><text x="2050" y="758">En route Winds</text></g>
<g id="n-itasca-2" class="n"><rect x="1753" y="824" width="76" height="34" rx="7"/><text x="1791" y="849">Itasca</text></g>
<g id="n-ground-support" class="n"><rect x="1966" y="825" width="177" height="34" rx="7"/><text x="2054" y="850">Ground Support</text></g>
<g id="n-lae-2" class="n"><rect x="2303" y="845" width="50" height="34" rx="7"/><text x="2328" y="870">Lae</text></g>
<g id="n-howland" class="n"><rect x="1735" y="878" width="102" height="34" rx="7"/><text x="1786" y="903">Howland</text></g>
<g id="n-burn-rate" class="n"><rect x="1753" y="938" width="116" height="34" rx="7"/><text x="1811" y="963">Burn Rate</text></g>
<g id="n-fuel-required" class="n"><rect x="1980" y="922" width="153" height="34" rx="7"/><text x="2056" y="947">Fuel Required</text></g>
<g id="n-weight-balance" class="n"><rect x="2256" y="923" width="304" height="34" rx="7"/><text x="2408" y="948">Airplane Weight and Balance</text></g>
<g id="n-fuel-log" class="n"><rect x="1968" y="1006" width="192" height="34" rx="7"/><text x="2064" y="1031">In flight Fuel Log</text></g>
<g id="n-pnr" class="n"><rect x="1964" y="1083" width="200" height="34" rx="7"/><text x="2064" y="1108">Point of No Return</text></g>
<g id="n-alternate-airfields-2" class="n"><rect x="1974" y="1161" width="194" height="34" rx="7"/><text x="2071" y="1186">Alternate Airfields</text></g>
<g id="n-airport-specs" class="n"><rect x="1669" y="1150" width="228" height="34" rx="7"/><text x="1783" y="1175">Airport Specifications</text></g>
<g id="n-reporting-waypoints" class="n"><rect x="1512" y="1217" width="318" height="34" rx="7"/><text x="1671" y="1242">In flight Reporting Way points</text></g>
<g id="n-comm-plan-2" class="n"><rect x="1962" y="1246" width="232" height="34" rx="7"/><text x="2078" y="1271">Communications Plan</text></g>
<g id="n-radio-capability" class="n"><rect x="2298" y="1246" width="178" height="34" rx="7"/><text x="2387" y="1271">Radio Capability</text></g>
<g id="n-uss-ontario" class="n"><rect x="1556" y="1312" width="139" height="34" rx="7"/><text x="1625" y="1337">USS Ontario</text></g>
<g id="n-hourly" class="n"><rect x="1726" y="1314" width="86" height="34" rx="7"/><text x="1769" y="1339">hourly</text></g>
<g id="n-common-time" class="n"><rect x="1948" y="1338" width="277" height="34" rx="7"/><text x="2086" y="1363">Common Time Reference</text></g>
<g id="n-weather-reports-1" class="n"><rect x="2499" y="1393" width="184" height="34" rx="7"/><text x="2591" y="1418">Weather Reports</text></g>
<g id="n-maintenance-list" class="n"><rect x="2504" y="1476" width="184" height="34" rx="7"/><text x="2596" y="1501">Maintenance List</text></g>
<g id="n-lae-3" class="n"><rect x="2820" y="1477" width="50" height="34" rx="7"/><text x="2845" y="1502">Lae</text></g>
<g id="n-terminal-nav" class="n"><rect x="2433" y="1575" width="326" height="34" rx="7"/><text x="2596" y="1600">Terminal Navigation Technique</text></g>
<g id="n-descent-altimeter" class="n"><rect x="2412" y="1646" width="382" height="34" rx="7"/><text x="2603" y="1671">Descent Altimeter Setting Procedure</text></g>
<g id="n-lae-4" class="n"><rect x="1889" y="1437" width="50" height="34" rx="7"/><text x="1914" y="1462">Lae</text></g>
<g id="n-flight-clearance" class="n"><rect x="1826" y="1567" width="176" height="34" rx="7"/><text x="1914" y="1592">Flight Clearance</text></g>
<g id="n-qualifications-2" class="n"><rect x="2005" y="1575" width="150" height="34" rx="7"/><text x="2080" y="1600">Qualifications</text></g>
<g id="n-experience-2" class="n"><rect x="2133" y="1617" width="124" height="34" rx="7"/><text x="2195" y="1642">Experience</text></g>
<g id="n-fatigue-2" class="n"><rect x="2144" y="1683" width="88" height="34" rx="7"/><text x="2188" y="1708">Fatigue</text></g>
<g id="n-training-2" class="n"><rect x="2123" y="1746" width="96" height="34" rx="7"/><text x="2171" y="1771">Training</text></g>
<g id="n-departure-flight-plan" class="n"><rect x="1576" y="1597" width="228" height="34" rx="7"/><text x="1690" y="1622">Departure Flight Plan</text></g>
<g id="n-time-zone-sickness-2" class="n"><rect x="1530" y="1714" width="217" height="34" rx="7"/><text x="1638" y="1739">Time Zone Sickness</text></g>
<g id="n-pilot" class="n"><rect x="1901" y="1772" width="58" height="34" rx="7"/><text x="1930" y="1797">Pilot</text></g>
<g id="n-performance" class="n"><rect x="1846" y="1978" width="142" height="34" rx="7"/><text x="1917" y="2003">Performance</text></g>
<g id="n-fuel-2" class="n"><rect x="1765" y="2011" width="56" height="34" rx="7"/><text x="1793" y="2036">Fuel</text></g>
<g id="n-oil-2" class="n"><rect x="1970" y="2044" width="42" height="34" rx="7"/><text x="1991" y="2069">Oil</text></g>
<g id="n-fuel-tank" class="n"><rect x="1593" y="2081" width="112" height="34" rx="7"/><text x="1649" y="2106">Fuel Tank</text></g>
<g id="n-powerplants" class="n"><rect x="1801" y="2103" width="136" height="58" rx="7"/><text x="1869" y="2128">Aircraft</text><text x="1869" y="2152">Powerplants</text></g>
<g id="n-tank-size" class="n"><rect x="1499" y="2179" width="112" height="34" rx="7"/><text x="1555" y="2204">Tank Size</text></g>
<g id="n-tank-location" class="n"><rect x="1633" y="2184" width="154" height="34" rx="7"/><text x="1710" y="2209">Tank Location</text></g>
<g id="n-propellers" class="n"><rect x="1826" y="2206" width="114" height="34" rx="7"/><text x="1883" y="2231">Propellers</text></g>
<g id="n-magnetic-compass" class="n"><rect x="1893" y="2274" width="202" height="34" rx="7"/><text x="1994" y="2299">Magnetic Compass</text></g>
<g id="n-weather-reports-2" class="n"><rect x="1990" y="2328" width="185" height="34" rx="7"/><text x="2083" y="2353">Weather Reports</text></g>
<g id="n-true-heading" class="n"><rect x="1775" y="2454" width="151" height="58" rx="7"/><text x="1851" y="2479">True Heading</text><text x="1851" y="2503">(map)</text></g>
<g id="n-manual-control" class="n"><rect x="2017" y="2421" width="175" height="34" rx="7"/><text x="2105" y="2446">Manual&#160; Control</text></g>
<g id="n-cambridge" class="n"><rect x="1966" y="2491" width="176" height="58" rx="7"/><text x="2054" y="2516">Cambridge</text><text x="2054" y="2540">Engine Analyzer</text></g>
<g id="n-fuel-mixture" class="n"><rect x="2202" y="2339" width="91" height="58" rx="7"/><text x="2248" y="2364">Fuel</text><text x="2248" y="2388">Mixture</text></g>
<g id="n-aircraft-control" class="n"><rect x="2543" y="2249" width="89" height="58" rx="7"/><text x="2588" y="2274">Aircraft</text><text x="2588" y="2298">Control</text></g>
<g id="n-airspeed" class="n"><rect x="2345" y="2371" width="102" height="34" rx="7"/><text x="2396" y="2396">Airspeed</text></g>
<g id="n-pitch-roll" class="n"><rect x="2577" y="2382" width="109" height="34" rx="7"/><text x="2632" y="2407">Pitch/Roll</text></g>
<g id="n-heading" class="n"><rect x="2720" y="2366" width="98" height="34" rx="7"/><text x="2769" y="2391">Heading</text></g>
<g id="n-altitude" class="n"><rect x="2820" y="2364" width="91" height="34" rx="7"/><text x="2866" y="2389">Altitude</text></g>
<g id="n-attitude-gyro" class="n"><rect x="2410" y="2507" width="151" height="34" rx="7"/><text x="2486" y="2532">Attitude Gyro</text></g>
<g id="n-directional-gyro" class="n"><rect x="2597" y="2501" width="178" height="34" rx="7"/><text x="2686" y="2526">Directional Gyro</text></g>
<g id="n-sme" class="n"><rect x="2531" y="96" width="247" height="34" rx="7"/><text x="2655" y="121">Subject Matter Experts</text></g>
<g id="n-radio-operation" class="n"><rect x="2058" y="195" width="175" height="34" rx="7"/><text x="2146" y="220">Radio Operation</text></g>
<g id="n-weather-2" class="n"><rect x="2250" y="196" width="100" height="34" rx="7"/><text x="2300" y="221">Weather</text></g>
<g id="n-survival-equipment-1" class="n"><rect x="2373" y="198" width="218" height="34" rx="7"/><text x="2482" y="223">Survival Equipment</text></g>
<g id="n-intl-protocols" class="n"><rect x="2615" y="190" width="144" height="58" rx="7"/><text x="2687" y="215">International</text><text x="2687" y="239">Protocols</text></g>
<g id="n-route" class="n"><rect x="2827" y="202" width="74" height="34" rx="7"/><text x="2864" y="227">Route</text></g>
<g id="n-survival-skills" class="n"><rect x="2928" y="196" width="157" height="34" rx="7"/><text x="3007" y="221">Survival Skills</text></g>
<g id="n-destinations" class="n"><rect x="3100" y="190" width="140" height="34" rx="7"/><text x="3170" y="215">Destinations</text></g>
<g id="n-radio-equipment" class="n"><rect x="3270" y="184" width="186" height="34" rx="7"/><text x="3363" y="209">Radio Equipment</text></g>
<g id="n-crew-preflight" class="n"><rect x="2256" y="370" width="196" height="58" rx="7"/><text x="2354" y="395">Crew</text><text x="2354" y="419">Preflight Activities</text></g>
<g id="n-equipment-checklist" class="n"><rect x="2382" y="544" width="320" height="34" rx="7"/><text x="2542" y="569">Equipment On-Board checklist</text></g>
<g id="n-parachutes" class="n"><rect x="2206" y="687" width="126" height="34" rx="7"/><text x="2269" y="712">Parachutes</text></g>
<g id="n-life-raft" class="n"><rect x="2455" y="680" width="99" height="34" rx="7"/><text x="2505" y="705">Life Raft</text></g>
<g id="n-radio-2" class="n"><rect x="2613" y="646" width="72" height="34" rx="7"/><text x="2649" y="671">Radio</text></g>
<g id="n-smoke-bomb" class="n"><rect x="2195" y="764" width="148" height="34" rx="7"/><text x="2269" y="789">Smoke Bomb</text></g>
<g id="n-survival-equipment-2" class="n"><rect x="2372" y="783" width="212" height="34" rx="7"/><text x="2478" y="808">Survival Equipment</text></g>
<g id="n-rxtx-antennas" class="n"><rect x="2583" y="737" width="107" height="58" rx="7"/><text x="2637" y="762">RX/TX</text><text x="2637" y="786">Antennas</text></g>
<g id="n-loop-antenna-1" class="n"><rect x="2745" y="731" width="98" height="58" rx="7"/><text x="2794" y="756">Loop</text><text x="2794" y="780">Antenna</text></g>
<g id="n-engine-loss-takeoff" class="n"><rect x="2823" y="681" width="216" height="34" rx="7"/><text x="2931" y="706">Engine Loss Takeoff</text></g>
<g id="n-catastrophic" class="n"><rect x="2720" y="808" width="308" height="34" rx="7"/><text x="2874" y="833">Catastrophic Systems Failure</text></g>
<g id="n-electrical" class="n"><rect x="3688" y="599" width="310" height="34" rx="7"/><text x="3843" y="624">Electrical System Malfunction</text></g>
<g id="n-engine-loss-cruise" class="n"><rect x="3706" y="684" width="276" height="34" rx="7"/><text x="3844" y="709">Engine Loss during Cruise</text></g>
<g id="n-fuel-oil-exhaustion" class="n"><rect x="3726" y="788" width="237" height="34" rx="7"/><text x="3845" y="813">Fuel or Oil Exhaustion</text></g>
<g id="n-fuel-oil-leak" class="n"><rect x="2820" y="887" width="172" height="34" rx="7"/><text x="2906" y="912">Fuel or Oil Leak</text></g>
<g id="n-inflight-fire" class="n"><rect x="2848" y="958" width="139" height="34" rx="7"/><text x="2917" y="983">In flight Fire</text></g>
<g id="n-terrain" class="n"><rect x="2838" y="1024" width="197" height="34" rx="7"/><text x="2936" y="1049">Terrain Avoidance</text></g>
<g id="n-df-failure" class="n"><rect x="2815" y="1110" width="250" height="34" rx="7"/><text x="2940" y="1135">Direction Finder Failure</text></g>
<g id="n-visual-search" class="n"><rect x="2746" y="1183" width="410" height="34" rx="7"/><text x="2951" y="1208">Visual Search Pattern due to DF Failure</text></g>
<g id="n-sea-ditching" class="n"><rect x="2842" y="1268" width="261" height="34" rx="7"/><text x="2972" y="1293">Sea Ditching Procedures</text></g>
<g id="n-post-ditching" class="n"><rect x="2901" y="1373" width="236" height="34" rx="7"/><text x="3019" y="1398">Post Ditching Survival</text></g>
<g id="n-emergency" class="n"><rect x="3274" y="947" width="245" height="34" rx="7"/><text x="3396" y="972">Emergency Procedures</text></g>
<g id="n-structural" class="n"><rect x="3739" y="895" width="190" height="34" rx="7"/><text x="3834" y="920">Structural Failure</text></g>
<g id="n-bailout" class="n"><rect x="3759" y="972" width="203" height="34" rx="7"/><text x="3860" y="997">Bailout Procedures</text></g>
<g id="n-mayday" class="n"><rect x="3726" y="1054" width="274" height="34" rx="7"/><text x="3863" y="1079">Mayday Radio Procedures</text></g>
<g id="n-radio-failure" class="n"><rect x="3710" y="1139" width="295" height="34" rx="7"/><text x="3857" y="1164">Radio Failure at Destination</text></g>
<g id="n-landfall" class="n"><rect x="3700" y="1201" width="386" height="34" rx="7"/><text x="3893" y="1226">Landfall Navigation due to DF Failure</text></g>
<g id="n-weather-obscuration" class="n"><rect x="3726" y="1280" width="310" height="34" rx="7"/><text x="3881" y="1305">Weather Obscuration of stars</text></g>
<g id="n-weather-circumnav" class="n"><rect x="3717" y="1386" width="367" height="34" rx="7"/><text x="3900" y="1411">Weather effected circumnavigation</text></g>
<g id="n-radio-operator" class="n"><rect x="3422" y="1643" width="169" height="34" rx="7"/><text x="3506" y="1668">Radio Operator</text></g>
<g id="n-voice-message" class="n"><rect x="3045" y="1744" width="100" height="58" rx="7"/><text x="3095" y="1769">Voice</text><text x="3095" y="1793">Message</text></g>
<g id="n-receive" class="n"><rect x="2968" y="1913" width="92" height="34" rx="7"/><text x="3014" y="1938">Receive</text></g>
<g id="n-transmit" class="n"><rect x="3079" y="1874" width="104" height="34" rx="7"/><text x="3131" y="1899">Transmit</text></g>
<g id="n-freq-500" class="n"><rect x="3217" y="1845" width="148" height="34" rx="7"/><text x="3291" y="1870">Freq 500 kHz</text></g>
<g id="n-freq-3105" class="n"><rect x="3426" y="1818" width="162" height="58" rx="7"/><text x="3507" y="1843">Freq 3105 kHz</text><text x="3507" y="1867">Night</text></g>
<g id="n-freq-6210" class="n"><rect x="3592" y="1824" width="162" height="58" rx="7"/><text x="3673" y="1849">Freq 6210 kHz</text><text x="3673" y="1873">Day</text></g>
<g id="n-radio-3" class="n"><rect x="3468" y="1929" width="72" height="34" rx="7"/><text x="3504" y="1954">Radio</text></g>
<g id="n-rx-antenna" class="n"><rect x="3439" y="2019" width="135" height="34" rx="7"/><text x="3506" y="2044">RX Antenna</text></g>
<g id="n-tx-antenna" class="n"><rect x="3588" y="2023" width="130" height="34" rx="7"/><text x="3653" y="2048">Tx Antenna</text></g>
<g id="n-loop-antenna-2" class="n"><rect x="3131" y="2062" width="99" height="58" rx="7"/><text x="3180" y="2087">Loop</text><text x="3180" y="2111">Antenna</text></g>
<g id="n-ionosphere" class="n"><rect x="3443" y="2120" width="129" height="34" rx="7"/><text x="3507" y="2145">Ionosphere</text></g>
<g id="n-donut" class="n"><rect x="3442" y="2221" width="135" height="82" rx="7"/><text x="3509" y="2246">Donut</text><text x="3509" y="2270">Propagation</text><text x="3509" y="2294">@3105 kHz</text></g>
<g id="n-position-report-2" class="n"><rect x="3719" y="2230" width="168" height="34" rx="7"/><text x="3803" y="2255">Position Report</text></g>
<g id="n-nikumanu" class="n"><rect x="3695" y="2358" width="116" height="34" rx="7"/><text x="3753" y="2383">Nikumanu</text></g>
<g id="n-lao" class="n"><rect x="3842" y="2360" width="50" height="34" rx="7"/><text x="3867" y="2385">Lao</text></g>
<g id="n-uscg-ontario" class="n"><rect x="3545" y="2414" width="264" height="34" rx="7"/><text x="3677" y="2439">U.S Coast Guard Ontario</text></g>
<g id="n-nauru" class="n"><rect x="3891" y="2418" width="76" height="34" rx="7"/><text x="3929" y="2443">Nauru</text></g>
<g id="n-itasca-3" class="n"><rect x="3799" y="2472" width="76" height="34" rx="7"/><text x="3837" y="2497">Itasca</text></g>
</g>
</svg>
